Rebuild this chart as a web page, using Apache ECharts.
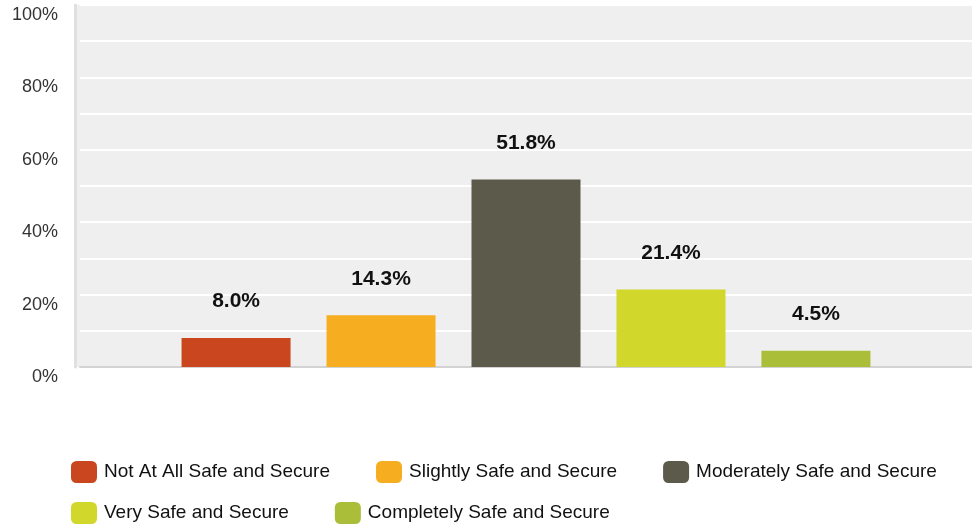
<!DOCTYPE html>
<html>
<head>
<meta charset="utf-8">
<script src="https://cdn.jsdelivr.net/npm/echarts@6/dist/echarts.min.js"></script>
<style>html,body{margin:0;padding:0;background:#fff;}#c{width:972px;height:526px;}</style>
</head>
<body>
<div id="c"></div>
<script>
const categories = ['Not At All Safe and Secure','Slightly Safe and Secure','Moderately Safe and Secure','Very Safe and Secure','Completely Safe and Secure'];
const values = [8.0, 14.3, 51.8, 21.4, 4.5];
const colors = ['#c9461e','#f6ae20','#5c5a4b','#d2d72b','#aabe3a'];
const yTicks = [0, 20, 40, 60, 80, 100];

const FONT = "'Liberation Sans', Arial, sans-serif";
const chart = echarts.init(document.getElementById('c'), null, {renderer: 'canvas'});

const series = categories.map((name, i) => ({
  name: name,
  type: 'bar',
  data: [values[i]],
  barWidth: 109,
  barGap: '33%',
  itemStyle: {color: colors[i]},
  label: {
    show: true,
    position: 'top',
    distance: 26,
    fontFamily: FONT,
    fontSize: 21,
    fontWeight: 'bold',
    color: '#111',
    formatter: p => p.value.toFixed(1) + '%'
  }
}));

const legendCommon = {
  orient: 'horizontal',
  icon: 'roundRect',
  itemWidth: 26,
  itemHeight: 22,
  itemGap: 46,
  padding: 0,
  textStyle: {fontFamily: FONT, fontSize: 19, color: '#111', padding: [0, 0, 0, 2]},
  selectedMode: false
};

const GL = 80, AX = 75, GT = 5, GB = 159;

chart.setOption({
  animation: false,
  backgroundColor: '#ffffff',
  graphic: [{
    type: 'rect', z: -10, silent: true,
    shape: {x: AX, y: GT, width: GL - AX, height: 526 - GB - GT},
    style: {fill: '#efefef'}
  }],
  grid: {left: GL, right: 0, top: GT, bottom: GB, show: true, backgroundColor: '#efefef', borderWidth: 0},
  legend: [
    Object.assign({}, legendCommon, {left: 71, top: 461, data: categories.slice(0, 3)}),
    Object.assign({}, legendCommon, {left: 71, top: 502, data: categories.slice(3)})
  ],
  xAxis: {
    type: 'category',
    data: [''],
    axisLine: {show: true, lineStyle: {color: '#d3d3d3', width: 2}},
    axisTick: {show: false},
    axisLabel: {show: false},
    splitLine: {show: false}
  },
  yAxis: {
    type: 'value',
    min: yTicks[0],
    max: yTicks[yTicks.length - 1],
    interval: 20,
    offset: GL - AX,
    axisLine: {show: true, lineStyle: {color: '#e0e0e0', width: 3}},
    axisTick: {show: false},
    axisLabel: {
      fontFamily: FONT, fontSize: 18, color: '#333', margin: 17,
      verticalAlign: 'top', padding: [1, 0, 0, 0],
      formatter: v => v + '%'
    },
    splitLine: {show: true, lineStyle: {color: '#ffffff', width: 2}},
    minorTick: {show: false, splitNumber: 2},
    minorSplitLine: {show: true, lineStyle: {color: '#ffffff', width: 2}}
  },
  series: series
});
</script>
</body>
</html>
